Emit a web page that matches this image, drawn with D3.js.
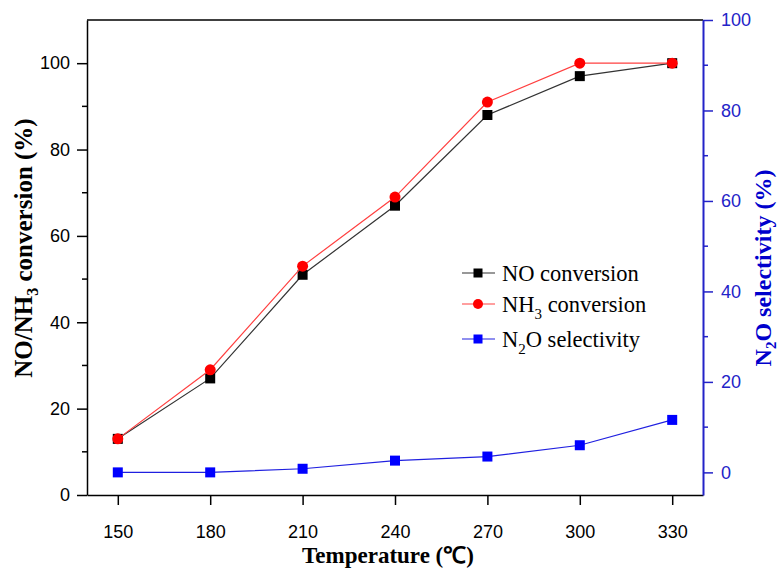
<!DOCTYPE html>
<html>
<head>
<meta charset="utf-8">
<script src="https://cdn.jsdelivr.net/npm/d3@7"></script>
<style>
  body { margin: 0; background: #fff; }
  svg { display: block; }
</style>
</head>
<body>
<div id="chart"></div>
<script>
// Chart values
const temps = [150, 180, 210, 240, 270, 300, 330];
const noConversion = [13, 27, 51, 67, 88, 97, 100];
const nh3Conversion = [13, 29, 53, 69, 91, 100, 100];
const n2oSelectivity = [0, 0, 0.8, 2.6, 3.5, 6, 11.6];
const leftTicks = [0, 20, 40, 60, 80, 100];
const rightTicks = [0, 20, 40, 60, 80, 100];

const width = 783, height = 573;
const margin = { top: 20, right: 80, bottom: 78, left: 87 };
const blue = "#0000ff";
const axisBlue = "#2323c8";
const serif = "'Liberation Serif', 'Times New Roman', serif";
const sans = "'Liberation Sans', Arial, sans-serif";

const svg = d3.select("#chart").append("svg")
  .attr("width", width)
  .attr("height", height);

const x = d3.scaleLinear().domain([140, 340]).range([margin.left, width - margin.right]);
const yLeft = d3.scaleLinear().domain([0, 110]).range([height - margin.bottom, margin.top]);
const yRight = d3.scaleLinear().domain([-5, 100]).range([height - margin.bottom, margin.top]);

const x0 = margin.left, x1 = width - margin.right;
const yTop = margin.top, yBot = height - margin.bottom;

// minor ticks
svg.append("g")
  .attr("transform", `translate(${x0},0)`)
  .selectAll("line").data(d3.range(10, 110, 20)).enter().append("line")
  .attr("x1", -5).attr("x2", 0)
  .attr("y1", d => yLeft(d)).attr("y2", d => yLeft(d))
  .attr("stroke", "#000").attr("stroke-width", 1.5);

svg.append("g")
  .attr("transform", `translate(${x1},0)`)
  .selectAll("line").data(d3.range(10, 100, 20)).enter().append("line")
  .attr("x1", 0).attr("x2", 5)
  .attr("y1", d => yRight(d)).attr("y2", d => yRight(d))
  .attr("stroke", axisBlue).attr("stroke-width", 1.5);

// x axis
const xAxis = svg.append("g")
  .attr("transform", `translate(0,${yBot})`)
  .call(d3.axisBottom(x).tickValues(temps).tickSize(10).tickPadding(20).tickSizeOuter(0));
xAxis.select(".domain").attr("stroke", "#000").attr("stroke-width", 1.5);
xAxis.selectAll(".tick line").attr("stroke-width", 1.5);
xAxis.selectAll("text").attr("font-family", sans).attr("font-size", 18).attr("fill", "#000");

// left axis
const leftAxis = svg.append("g")
  .attr("transform", `translate(${x0},0)`)
  .call(d3.axisLeft(yLeft).tickValues(leftTicks).tickSize(10).tickPadding(7).tickSizeOuter(0));
leftAxis.select(".domain").attr("stroke", "#000").attr("stroke-width", 1.5);
leftAxis.selectAll(".tick line").attr("stroke-width", 1.5);
leftAxis.selectAll("text").attr("font-family", sans).attr("font-size", 18).attr("fill", "#000");

// top border
svg.append("line")
  .attr("x1", x0).attr("x2", x1).attr("y1", yTop).attr("y2", yTop)
  .attr("stroke", "#000").attr("stroke-width", 1.5);

// right axis
const rightAxis = svg.append("g")
  .attr("transform", `translate(${x1},0)`)
  .call(d3.axisRight(yRight).tickValues(rightTicks).tickSize(10).tickPadding(8).tickSizeOuter(0));
rightAxis.select(".domain").attr("stroke", axisBlue).attr("stroke-width", 2);
rightAxis.selectAll(".tick line").attr("stroke", axisBlue).attr("stroke-width", 1.5);
rightAxis.selectAll("text").attr("font-family", sans).attr("font-size", 18).attr("fill", axisBlue);

// series
const series = [
  { values: noConversion, y: yLeft, line: "#333", fill: "#000", shape: "square" },
  { values: nh3Conversion, y: yLeft, line: "#ff4040", fill: "#ff0000", shape: "circle" },
  { values: n2oSelectivity, y: yRight, line: "#2020e0", fill: blue, shape: "square" }
];

series.forEach(s => {
  const pts = temps.map((t, i) => [t, s.values[i]]);
  svg.append("path")
    .datum(pts)
    .attr("fill", "none")
    .attr("stroke", s.line)
    .attr("stroke-width", 1.2)
    .attr("d", d3.line().x(d => x(d[0])).y(d => s.y(d[1])));
  if (s.shape === "square") {
    svg.selectAll(null).data(pts).enter().append("rect")
      .attr("x", d => x(d[0]) - 5).attr("y", d => s.y(d[1]) - 5)
      .attr("width", 10).attr("height", 10)
      .attr("fill", s.fill);
  } else {
    svg.selectAll(null).data(pts).enter().append("circle")
      .attr("cx", d => x(d[0])).attr("cy", d => s.y(d[1]))
      .attr("r", 5.5)
      .attr("fill", s.fill);
  }
});

// axis titles
svg.append("text")
  .attr("x", 388).attr("y", 563)
  .attr("text-anchor", "middle")
  .attr("font-family", serif).attr("font-weight", "bold").attr("font-size", 23)
  .text("Temperature (℃)");

const lt = svg.append("text")
  .attr("transform", `translate(32,248) rotate(-90)`)
  .attr("text-anchor", "middle")
  .attr("font-family", serif).attr("font-weight", "bold").attr("font-size", 25);
lt.append("tspan").text("NO/NH");
lt.append("tspan").attr("dy", 6).attr("font-size", 16).text("3");
lt.append("tspan").attr("dy", -6).text(" conversion (%)");

const rt = svg.append("text")
  .attr("transform", `translate(771,268) rotate(-90)`)
  .attr("text-anchor", "middle")
  .attr("font-family", serif).attr("font-weight", "bold").attr("font-size", 24)
  .attr("fill", "#0000cc");
rt.append("tspan").text("N");
rt.append("tspan").attr("dy", 5).attr("font-size", 15).text("2");
rt.append("tspan").attr("dy", -5).text("O selectivity (%)");

// legend
const legendItems = [
  { label: ["NO conversion"], line: "#333", fill: "#000", shape: "square", y: 273 },
  { label: ["NH", "3", " conversion"], line: "#ff4040", fill: "#ff0000", shape: "circle", y: 304 },
  { label: ["N", "2", "O selectivity"], line: "#2020e0", fill: blue, shape: "square", y: 339 }
];
const legend = svg.append("g");
legendItems.forEach(item => {
  const g = legend.append("g").attr("transform", `translate(462,${item.y})`);
  g.append("line").attr("x1", 0).attr("x2", 33).attr("y1", 0).attr("y2", 0)
    .attr("stroke", item.line).attr("stroke-width", 1.2);
  if (item.shape === "square") {
    g.append("rect").attr("x", 16 - 4.5).attr("y", -4.5).attr("width", 9).attr("height", 9).attr("fill", item.fill);
  } else {
    g.append("circle").attr("cx", 16).attr("cy", 0).attr("r", 5).attr("fill", item.fill);
  }
  const t = g.append("text").attr("x", 40).attr("y", 7.5)
    .attr("font-family", serif).attr("font-size", 22.5).attr("fill", "#000");
  if (item.label.length === 1) {
    t.text(item.label[0]);
  } else {
    t.append("tspan").text(item.label[0]);
    t.append("tspan").attr("dy", 7).attr("font-size", 15).text(item.label[1]);
    t.append("tspan").attr("dy", -7).text(item.label[2]);
  }
});
</script>
</body>
</html>
